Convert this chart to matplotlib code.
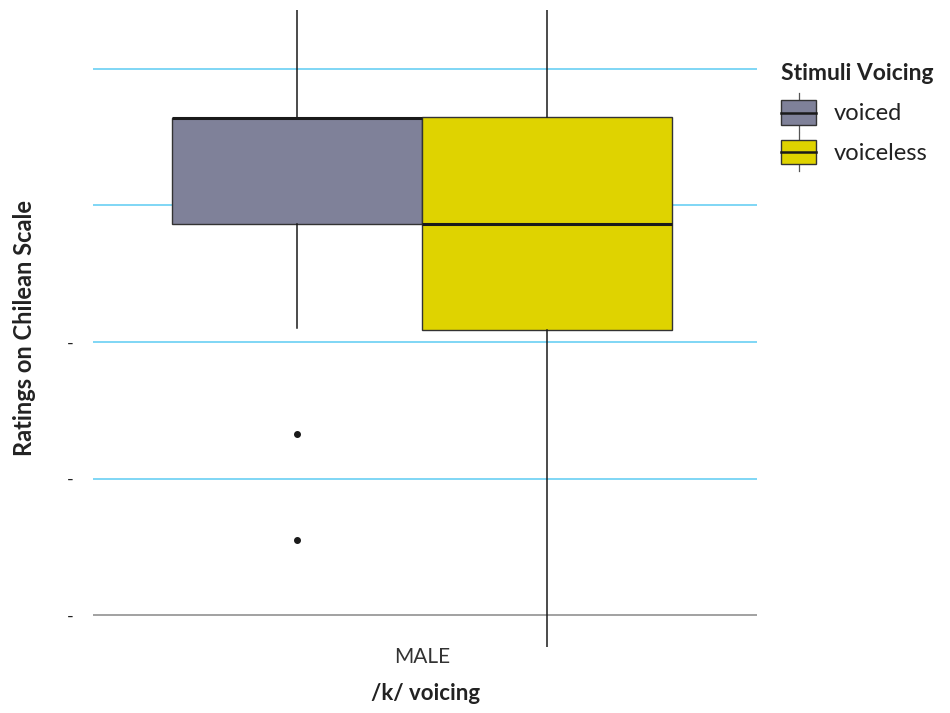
import numpy as np
import matplotlib.pyplot as plt
from matplotlib.legend_handler import HandlerBase
from matplotlib.patches import Rectangle
from matplotlib.lines import Line2D

plt.rcParams['font.family'] = ['Lato', 'DejaVu Sans']

# box statistics
groups = ['voiced', 'voiceless']
q1 = [3.86, 3.09]
med = [4.64, 3.86]
q3 = [4.64, 4.65]
whislo = [3.10, 0.77]
whishi = [5.43, 5.43]
outliers = [[2.33, 1.55], []]
colors = ['#7f8199', '#dfd300']
category = 'MALE'
yticks = [1, 2, 3, 4, 5]
ytick_labels = ['-', '-', '-', '', '']

fig = plt.figure(figsize=(9.5, 7.13), dpi=100)
ax = fig.add_axes([0.098, 0.093, 0.699, 0.893])

# grid lines
for t in yticks:
    ax.axhline(t, color='#888888' if t == 1 else '#5ccbf2', lw=1.1, zorder=0)

stats = []
for i in range(len(groups)):
    stats.append(dict(q1=q1[i], med=med[i], q3=q3[i], whislo=whislo[i],
                      whishi=whishi[i], fliers=outliers[i], label=groups[i]))

positions = [0.995 - 0.226, 0.995 + 0.226]
bp = ax.bxp(stats, positions=positions, widths=0.452, patch_artist=True,
            showcaps=False,
            boxprops=dict(edgecolor='#333333', linewidth=1.0),
            medianprops=dict(color='#1a1a1a', linewidth=2.2),
            whiskerprops=dict(color='#1a1a1a', linewidth=1.1),
            flierprops=dict(marker='o', markerfacecolor='#1a1a1a',
                            markeredgecolor='#1a1a1a', markersize=4))
for patch, c in zip(bp['boxes'], colors):
    patch.set_facecolor(c)

ax.set_xlim(0.4, 1.6)
ax.set_ylim(0.77, 5.43)
ax.set_xticks([0.995])
ax.set_xticklabels([category], fontsize=15, color='#333333')
ax.set_yticks(yticks)
ax.set_yticklabels(ytick_labels, fontsize=13, color='#222222')
ax.tick_params(length=0)
ax.tick_params(axis='x', pad=0)
ax.tick_params(axis='y', pad=14)
for s in ax.spines.values():
    s.set_visible(False)

ax.set_xlabel('/k/ voicing', fontsize=16, fontweight='bold', color='#222222', labelpad=12)
ax.set_ylabel('Ratings on Chilean Scale', fontsize=17, fontweight='bold', color='#222222', labelpad=22)


class BoxHandler(HandlerBase):
    def __init__(self, color):
        super().__init__()
        self.color = color

    def create_artists(self, legend, orig_handle, xdescent, ydescent, width, height, fontsize, trans):
        cx = width / 2 - xdescent
        r = Rectangle((-xdescent, -ydescent), width, height, facecolor=self.color,
                      edgecolor='#333333', lw=1.0, transform=trans)
        m = Line2D([-xdescent, width - xdescent], [height / 2 - ydescent] * 2,
                   color='#1a1a1a', lw=1.8, transform=trans)
        w1 = Line2D([cx, cx], [height - ydescent, height - ydescent + 5], color='#555555', lw=0.9, transform=trans)
        w2 = Line2D([cx, cx], [-ydescent - 5, -ydescent], color='#555555', lw=0.9, transform=trans)
        return [w1, w2, r, m]


h1 = Rectangle((0, 0), 1, 1)
h2 = Rectangle((0, 0), 1, 1)
leg = fig.legend([h1, h2], groups, title='Stimuli Voicing', loc='upper left',
                 bbox_to_anchor=(0.822, 0.912), frameon=False, fontsize=17,
                 title_fontproperties=dict(weight='bold', size=16.5),
                 handler_map={h1: BoxHandler(colors[0]), h2: BoxHandler(colors[1])},
                 handlelength=1.5, handleheight=1.2, labelspacing=0.65,
                 handletextpad=0.75, borderpad=0, borderaxespad=0)
leg._legend_box.align = 'left'
leg._legend_box.sep = 12
for t in leg.get_texts():
    t.set_color('#222222')
leg.get_title().set_color('#222222')

fig.savefig('out.png', dpi=100)
